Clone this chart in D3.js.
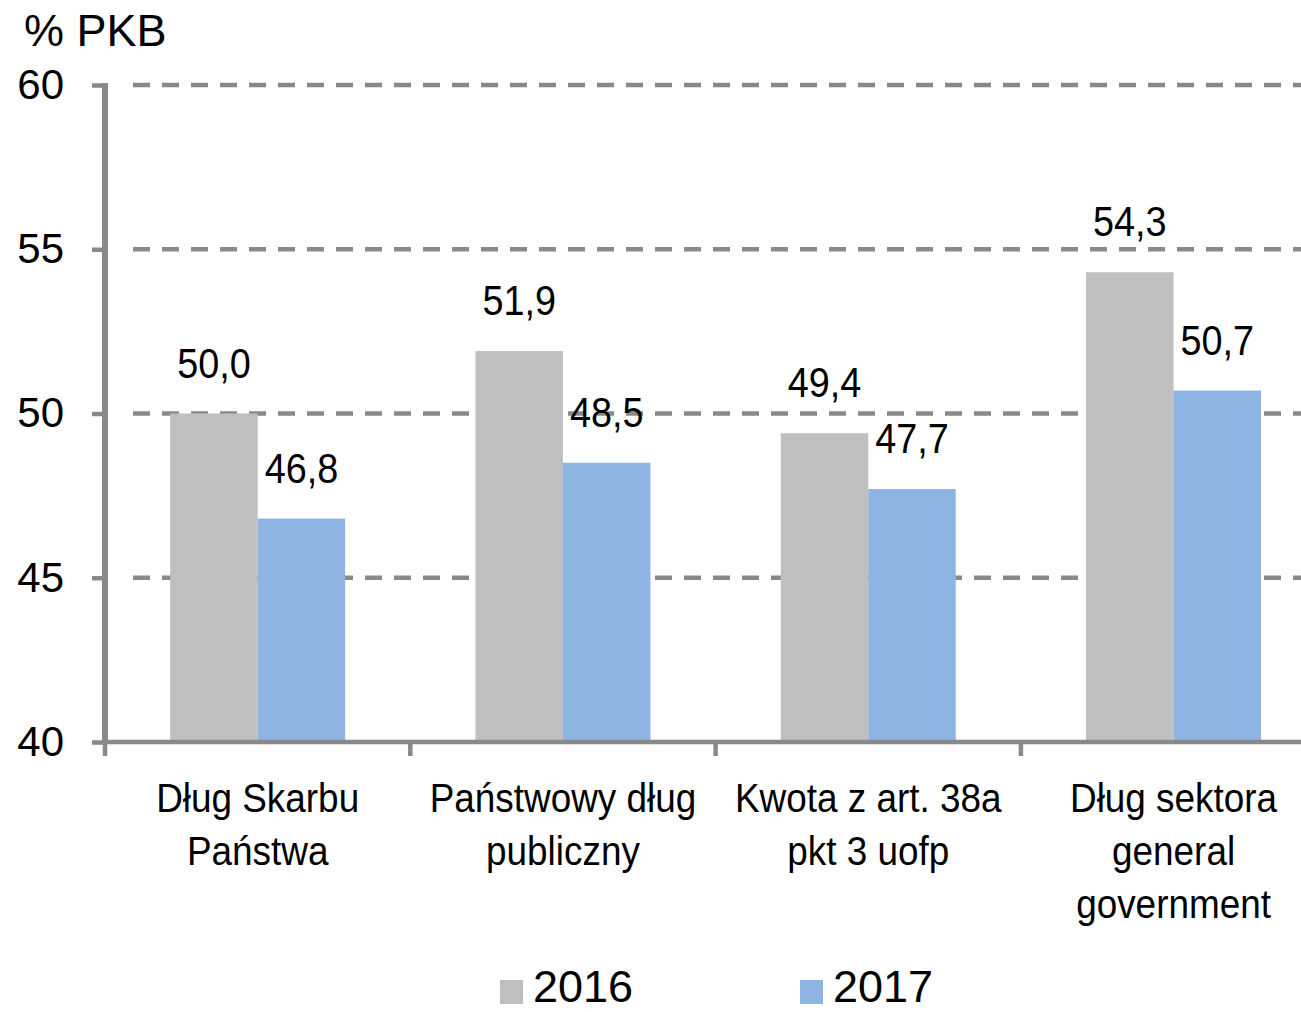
<!DOCTYPE html>
<html>
<head>
<meta charset="utf-8">
<script src="https://cdn.jsdelivr.net/npm/d3@7"></script>
<style>
  body { margin: 0; background: #fff; }
  svg { display: block; }
</style>
</head>
<body>
<script>
// data
const categories = [
  ["Dług Skarbu", "Państwa"],
  ["Państwowy dług", "publiczny"],
  ["Kwota z art. 38a", "pkt 3 uofp"],
  ["Dług sektora", "general", "government"]
];
const years = ["2016", "2017"];
const values2016 = [50.0, 51.9, 49.4, 54.3];
const values2017 = [46.8, 48.5, 47.7, 50.7];
const yTicks = [40, 45, 50, 55, 60];
const colors = ["#bfbfbf", "#8eb4e3"];

const w = 1301, h = 1012;
const font = "'Liberation Sans', Arial, sans-serif";
const squeeze = 0.9; // narrow look of the labels in the original
const axisColor = "#898989";

const svg = d3.select("body").append("svg")
  .attr("width", w)
  .attr("height", h);

// scales
const keys = categories.map((c, i) => "c" + i);
const x = d3.scaleBand().domain(keys).range([105, 105 + 4 * 305.3]).padding(0);
const xInner = d3.scaleBand().domain(years).range([0, x.bandwidth()])
  .paddingInner(0).paddingOuter(0.745);
const y = d3.scaleLinear().domain([40, 60]).range([742, 85]);

// dashed gridlines
svg.append("g").selectAll("line")
  .data(yTicks.filter(t => t > 40))
  .enter()
  .append("line")
  .attr("x1", 121)
  .attr("x2", w)
  .attr("y1", d => y(d))
  .attr("y2", d => y(d))
  .attr("stroke", axisColor)
  .attr("stroke-width", 4.5)
  .attr("stroke-dasharray", "17,12")
  .attr("stroke-dashoffset", 17);

// bars
const rows = keys.map((k, i) => ({ key: k, vals: [values2016[i], values2017[i]] }));
const groups = svg.append("g").selectAll("g")
  .data(rows)
  .enter()
  .append("g")
  .attr("transform", d => `translate(${x(d.key)},0)`);

groups.selectAll("rect")
  .data(d => d.vals.map((v, j) => ({ year: years[j], v: v, j: j })))
  .enter()
  .append("rect")
  .attr("x", d => xInner(d.year))
  .attr("width", xInner.bandwidth())
  .attr("y", d => y(d.v))
  .attr("height", d => y(40) - y(d.v))
  .attr("fill", d => colors[d.j]);

// value labels
groups.selectAll("text")
  .data(d => d.vals.map((v, j) => ({ year: years[j], v: v })))
  .enter()
  .append("text")
  .attr("transform", d => `translate(${xInner(d.year) + xInner.bandwidth() / 2},${y(d.v) - 36}) scale(${squeeze},1)`)
  .attr("text-anchor", "middle")
  .attr("font-family", font)
  .attr("font-size", 42)
  .attr("fill", "#000")
  .text(d => d3.format(".1f")(d.v).replace(".", ","));

// y axis
const yAxis = svg.append("g")
  .attr("transform", "translate(105,0)")
  .call(d3.axisLeft(y).tickValues(yTicks).tickSize(13).tickFormat(d3.format("d")));
yAxis.select(".domain").attr("stroke", axisColor).attr("stroke-width", 6)
  .attr("d", `M0,${y(60) - 2}V${y(40)}`);
yAxis.selectAll(".tick line").attr("stroke", axisColor).attr("stroke-width", 4.5);
yAxis.selectAll(".tick text")
  .attr("x", -41)
  .attr("font-family", font)
  .attr("font-size", 42)
  .attr("fill", "#000");

// x axis line and ticks at band edges
svg.append("line")
  .attr("x1", 102).attr("x2", w)
  .attr("y1", y(40)).attr("y2", y(40))
  .attr("stroke", axisColor).attr("stroke-width", 4.5);
svg.append("g").selectAll("line")
  .data(keys)
  .enter()
  .append("line")
  .attr("x1", d => x(d)).attr("x2", d => x(d))
  .attr("y1", y(40)).attr("y2", y(40) + 14)
  .attr("stroke", axisColor).attr("stroke-width", 4.5);

// category labels
const catText = svg.append("g").selectAll("text")
  .data(rows)
  .enter()
  .append("text")
  .attr("transform", d => `translate(${x(d.key) + x.bandwidth() / 2},812) scale(${squeeze},1)`)
  .attr("text-anchor", "middle")
  .attr("font-family", font)
  .attr("font-size", 41)
  .attr("fill", "#000");
catText.selectAll("tspan")
  .data((d, i) => categories[i])
  .enter()
  .append("tspan")
  .attr("x", 0)
  .attr("y", (d, i) => i * 53)
  .text(d => d);

// unit label
svg.append("text")
  .attr("x", 24)
  .attr("y", 46)
  .attr("font-family", font)
  .attr("font-size", 45)
  .attr("fill", "#000")
  .text("% PKB");

// legend
const legendX = [500, 800];
const legend = svg.append("g").selectAll("g")
  .data(years)
  .enter()
  .append("g")
  .attr("transform", (d, i) => `translate(${legendX[i]},980)`);
legend.append("rect")
  .attr("width", 23).attr("height", 24)
  .attr("fill", (d, i) => colors[i]);
legend.append("text")
  .attr("x", 33)
  .attr("y", 22)
  .attr("font-family", font)
  .attr("font-size", 45)
  .attr("fill", "#000")
  .text(d => d);
</script>
</body>
</html>
